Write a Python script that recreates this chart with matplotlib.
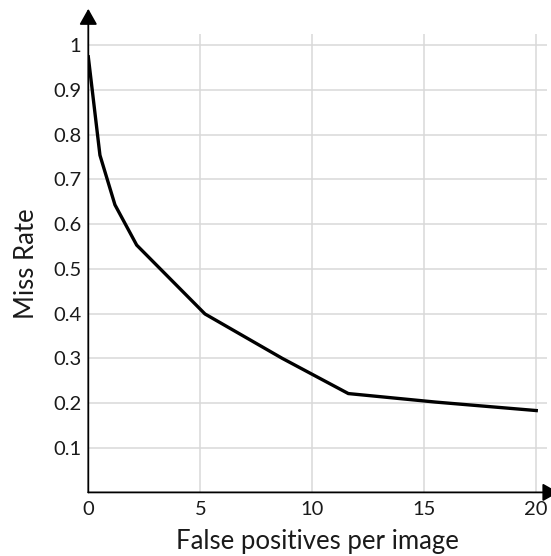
import matplotlib
matplotlib.use("Agg")
import matplotlib.pyplot as plt

# Miss rate vs false positives per image
fppi = [0, 0.52, 1.19, 2.16, 5.21, 8.65, 11.61, 15.5, 20.0]
miss_rate = [0.974, 0.754, 0.643, 0.553, 0.399, 0.300, 0.221, 0.202, 0.183]

x_ticks = [0, 5, 10, 15, 20]
y_ticks = [0.1, 0.2, 0.3, 0.4, 0.5, 0.6, 0.7, 0.8, 0.9, 1.0]
y_tick_labels = ["0.1", "0.2", "0.3", "0.4", "0.5", "0.6", "0.7", "0.8", "0.9", "1"]

plt.rcParams['font.family'] = ['Lato', 'DejaVu Sans']

fig = plt.figure(figsize=(5.51, 5.56), dpi=100)
ax = fig.add_axes([88.3 / 551, (556 - 492.4) / 556, (547 - 88.3) / 551, (492.4 - 34) / 556])

ax.plot(fppi, miss_rate, color='black', lw=2.4, solid_joinstyle='miter', zorder=3)

ax.set_xlim(0, 20.48)
ax.set_ylim(0, 1.025)
ax.set_xticks(x_ticks)
ax.set_xticklabels([str(t) for t in x_ticks])
ax.set_yticks(y_ticks)
ax.set_yticklabels(y_tick_labels)
ax.tick_params(length=0, labelsize=14.5, colors='#1a1a1a')
ax.tick_params(axis='y', pad=5)
ax.tick_params(axis='x', pad=6)

ax.grid(True, color='#d9d9d9', lw=1.1)
ax.set_axisbelow(True)
for s in ax.spines.values():
    s.set_visible(False)

# axes with arrow heads
arrow = dict(arrowstyle='-|>,head_length=0.8,head_width=0.45', color='black',
             lw=1.3, mutation_scale=12, shrinkA=0, shrinkB=0)
ax.annotate('', xy=(0, 1.055), xytext=(0, 0), xycoords='axes fraction',
            textcoords='axes fraction', arrowprops=arrow, annotation_clip=False)
ax.annotate('', xy=(1.025, 0), xytext=(0, 0), xycoords='axes fraction',
            textcoords='axes fraction', arrowprops=arrow, annotation_clip=False)

ax.set_xlabel('False positives per image', fontsize=18.5, labelpad=8, color='#1a1a1a')
ax.set_ylabel('Miss Rate', fontsize=18.5, labelpad=10, color='#1a1a1a')

fig.savefig('out.png', dpi=100, facecolor='white')
